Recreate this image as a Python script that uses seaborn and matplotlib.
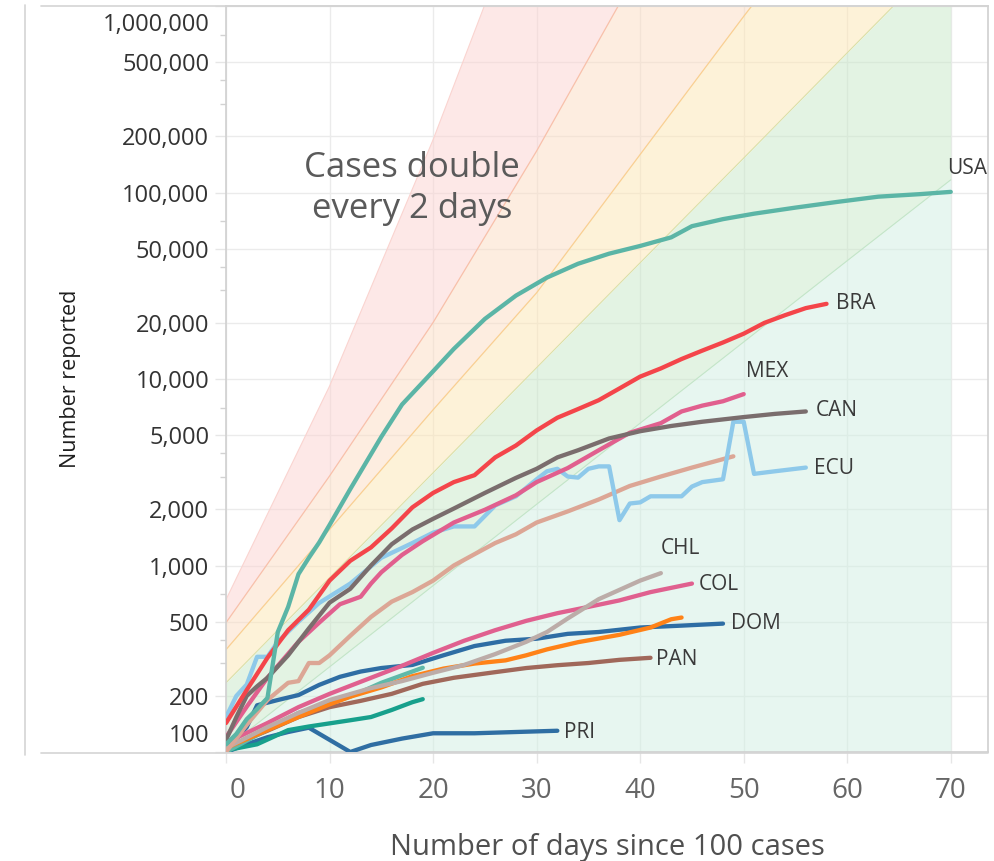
import numpy as np
import pandas as pd
import matplotlib
matplotlib.use("Agg")
import matplotlib.pyplot as plt
import matplotlib.ticker as mticker
from matplotlib.lines import Line2D
from matplotlib.transforms import ScaledTranslation
import seaborn as sns

# Cumulative cases by days since the 100th case
USA_DAYS = [0, 1, 2, 3, 4, 5, 6, 7, 8, 9, 10, 12, 15, 17, 20, 22, 25, 28, 31, 34, 37, 40, 43, 45, 48, 51, 55, 59, 63, 67, 70]
USA_CASES = [110, 125, 150, 170, 195, 440, 600, 900, 1100, 1330, 1650, 2570, 4900, 7300, 11000, 14500, 21000, 28000,
             35000, 41500, 47000, 51700, 57500, 66000, 72000, 77000, 83000, 89000, 95000, 98000, 100800]

BRA_DAYS = [0, 2, 4, 6, 8, 10, 12, 14, 16, 18, 20, 22, 24, 26, 28, 30, 32, 34, 36, 38, 40, 42, 44, 46, 48, 50, 52, 54, 56, 58]
BRA_CASES = [143, 215, 320, 450, 580, 830, 1060, 1250, 1580, 2050, 2450, 2800, 3050, 3800, 4400, 5300, 6200, 6900,
             7700, 8900, 10300, 11400, 12800, 14200, 15700, 17500, 20000, 22000, 24000, 25300]

MEX_DAYS = [0, 2, 4, 5, 7, 9, 11, 13, 14, 15, 17, 19, 22, 25, 28, 30, 33, 36, 39, 42, 44, 46, 48, 50]
MEX_CASES = [120, 175, 250, 290, 390, 494, 620, 680, 800, 920, 1140, 1350, 1700, 1990, 2380, 2800, 3330, 4150,
             5150, 5800, 6700, 7200, 7600, 8300]

CAN_DAYS = [0, 1, 2, 3, 4, 6, 8, 10, 12, 14, 16, 18, 20, 22, 25, 28, 30, 32, 34, 37, 40, 43, 46, 50, 53, 56]
CAN_CASES = [116, 154, 200, 225, 250, 330, 460, 632, 750, 1000, 1300, 1560, 1780, 2020, 2450, 2950, 3300, 3800,
             4150, 4800, 5250, 5600, 5900, 6250, 6500, 6700]

ECU_DAYS = [0, 1, 2, 3, 4, 5, 7, 9, 12, 15, 18, 20, 22, 24, 26, 28, 30, 31, 32, 33, 34, 35, 36, 37, 38, 39, 40,
            41, 44, 45, 46, 48, 49, 50, 51, 53, 56]
ECU_CASES = [154, 200, 230, 324, 324, 390, 500, 630, 800, 1100, 1320, 1500, 1620, 1620, 2100, 2350, 2900, 3200,
             3300, 3000, 2960, 3300, 3400, 3400, 1750, 2150, 2180, 2350, 2350, 2650, 2800, 2900, 5900, 5900,
             3100, 3200, 3350]

SALMON_DAYS = [0, 2, 4, 6, 7, 8, 9, 10, 12, 14, 16, 18, 20, 22, 24, 26, 28, 30, 33, 36, 39, 42, 45, 49]
SALMON_CASES = [100, 140, 190, 235, 240, 300, 300, 330, 420, 530, 640, 720, 830, 1000, 1150, 1320, 1470, 1700,
                1950, 2260, 2670, 3000, 3350, 3850]

CHL_DAYS = [0, 4, 7, 10, 14, 17, 20, 23, 26, 29, 31, 33, 36, 38, 40, 42]
CHL_CASES = [105, 136, 162, 190, 220, 240, 266, 293, 335, 390, 440, 520, 660, 740, 830, 910]

COL_DAYS = [0, 4, 7, 10, 14, 17, 20, 23, 26, 29, 32, 35, 38, 41, 45]
COL_CASES = [112, 143, 174, 205, 250, 290, 340, 395, 450, 505, 555, 600, 650, 720, 800]

DOM_DAYS = [0, 1, 2, 3, 5, 7, 9, 11, 13, 15, 18, 21, 24, 27, 30, 33, 36, 40, 44, 48]
DOM_CASES = [110, 118, 136, 178, 190, 202, 229, 253, 270, 282, 293, 330, 370, 395, 405, 430, 440, 465, 476, 488]

PAN_DAYS = [0, 4, 7, 10, 13, 16, 19, 22, 26, 29, 32, 35, 38, 41]
PAN_CASES = [105, 130, 154, 174, 188, 205, 232, 250, 268, 282, 292, 300, 312, 320]

PRI_DAYS = [0, 2, 4, 6, 8, 12, 14, 17, 20, 24, 28, 32]
PRI_CASES = [100, 110, 120, 128, 135, 100, 109, 118, 126, 126, 128, 130]

ORANGE_DAYS = [0, 4, 7, 10, 12, 15, 18, 21, 24, 27, 29, 31, 34, 38, 41, 43, 44]
ORANGE_CASES = [105, 131, 154, 180, 198, 222, 255, 280, 298, 310, 330, 355, 388, 425, 465, 515, 526]

LTEAL_DAYS = [0, 4, 7, 12, 15, 19]
LTEAL_CASES = [100, 132, 162, 198, 235, 283]

DTEAL_DAYS = [0, 3, 6, 8, 12, 14, 16, 18, 19]
DTEAL_CASES = [102, 110, 131, 137, 148, 154, 168, 185, 192]

# Doubling-time guide bands: edge values at the band days
BAND_DAYS = [0, 10, 20, 30, 40, 50, 60, 70]
EDGE_A = [657, 9160, 192000, 5.4e6, 1.5e8, 4e9, 1e11, 3e12]
EDGE_B = [494, 3020, 20100, 167000, 1.62e6, 1.6e7, 1.6e8, 1.6e9]
EDGE_C = [354, 1560, 6840, 29000, 160000, 880000, 4.6e6, 2.4e7]
EDGE_D = [235, 860, 3140, 11500, 42000, 153000, 561000, 2.05e6]
EDGE_E = [105, 286, 780, 2130, 5800, 15800, 43100, 117000]

Y_TICKS = [100, 200, 500, 1000, 2000, 5000, 10000, 20000, 50000, 100000, 200000, 500000, 1000000]
Y_MINOR = [300, 400, 700, 3000, 4000, 7000, 30000, 40000, 70000, 300000, 400000, 700000]
X_TICKS = [0, 10, 20, 30, 40, 50, 60, 70]


def main():
    sns.set_theme(style="whitegrid")
    plt.rcParams["font.family"] = ["Open Sans", "DejaVu Sans"]

    series = [
        ("PRI", PRI_DAYS, PRI_CASES, "#2f6ea3"),
        ("teal_dark", DTEAL_DAYS, DTEAL_CASES, "#17a08c"),
        ("PAN", PAN_DAYS, PAN_CASES, "#a0685a"),
        ("teal_light", LTEAL_DAYS, LTEAL_CASES, "#5fb9a9"),
        ("DOM", DOM_DAYS, DOM_CASES, "#2e6da4"),
        ("orange", ORANGE_DAYS, ORANGE_CASES, "#ff8217"),
        ("COL", COL_DAYS, COL_CASES, "#e0608f"),
        ("CHL", CHL_DAYS, CHL_CASES, "#bcaca8"),
        ("salmon", SALMON_DAYS, SALMON_CASES, "#dca695"),
        ("ECU", ECU_DAYS, ECU_CASES, "#8ec9ea"),
        ("MEX", MEX_DAYS, MEX_CASES, "#e15f8e"),
        ("CAN", CAN_DAYS, CAN_CASES, "#7a6d6d"),
        ("BRA", BRA_DAYS, BRA_CASES, "#f4454a"),
        ("USA", USA_DAYS, USA_CASES, "#5bb5a6"),
    ]
    rows = []
    for name, days, cases, _ in series:
        for d, c in zip(days, cases):
            rows.append({"Country": name, "Day": d, "Cases": c})
    df = pd.DataFrame(rows)
    palette = {name: col for name, _, _, col in series}

    fig = plt.figure(figsize=(9.94, 8.61), dpi=100)
    ax = fig.add_axes([0.2274, 0.1266, 0.7666, 0.8664])
    ax.set_yscale("log")
    ax.set_axisbelow(True)

    # guide bands
    floor = Y_TICKS[0]
    ax.fill_between(BAND_DAYS, EDGE_A, EDGE_B, color="#fcd2d0", alpha=0.5, lw=0, zorder=1)
    ax.fill_between(BAND_DAYS, EDGE_B, EDGE_C, color="#fcdcc2", alpha=0.5, lw=0, zorder=1)
    ax.fill_between(BAND_DAYS, EDGE_C, EDGE_D, color="#fde6b2", alpha=0.5, lw=0, zorder=1)
    ax.fill_between(BAND_DAYS, EDGE_D, EDGE_E, color="#c9e8c9", alpha=0.5, lw=0, zorder=1)
    ax.fill_between(BAND_DAYS, EDGE_E, floor, color="#d0efe2", alpha=0.5, lw=0, zorder=1)
    ax.plot(BAND_DAYS, EDGE_A, color="#fad4d0", lw=0.8, zorder=1.1)
    ax.plot(BAND_DAYS, EDGE_B, color="#f8c0aa", lw=0.9, zorder=1.1)
    ax.plot(BAND_DAYS, EDGE_C, color="#f9cf92", lw=0.9, zorder=1.1)
    ax.plot(BAND_DAYS, EDGE_D, color="#dadfa6", lw=0.8, zorder=1.1)
    ax.plot(BAND_DAYS, EDGE_E, color="#c3e5c9", lw=0.8, zorder=1.1)

    sns.lineplot(data=df, x="Day", y="Cases", hue="Country", hue_order=[s[0] for s in series],
                 palette=palette, estimator=None, linewidth=3.1, legend=False, ax=ax, zorder=3)

    ax.set_xlim(0, 73.6)
    ax.set_ylim(100, 1000000)
    ax.set_xticks(X_TICKS)
    ax.set_yticks(Y_TICKS)
    ax.yaxis.set_major_formatter(mticker.FuncFormatter(lambda v, p: f"{int(round(v)):,}"))
    ax.yaxis.set_minor_locator(mticker.FixedLocator(Y_MINOR))
    ax.yaxis.set_minor_formatter(mticker.NullFormatter())
    ax.grid(which="major", color="#ebebeb", lw=1)
    ax.grid(which="minor", visible=False)
    ax.tick_params(axis="y", which="major", left=True, length=8, width=1, color="#e6e6e6",
                   labelsize=17, labelcolor="#333333", pad=4)
    ax.tick_params(axis="y", which="minor", left=True, length=4, width=1, color="#d2d2d2")
    ax.tick_params(axis="x", which="major", bottom=True, length=8, width=1, color="#e6e6e6",
                   labelsize=20, labelcolor="#666666", pad=10)
    for sp in ax.spines.values():
        sp.set_color("#d0d0d0")
        sp.set_linewidth(1.2)

    ax.set_xlabel("Number of days since 100 cases", fontsize=21, color="#505050", labelpad=20)
    ax.set_ylabel("Number reported", fontsize=15.5, color="#1e1e1e")
    ax.yaxis.set_label_coords(-0.19, 0.5)

    ax.text(17.95, 105000, "Cases double\nevery 2 days", fontsize=25, color="#5a5a5a",
            ha="center", va="center", linespacing=1.25, zorder=4)

    # end-of-line country labels
    offsets = {
        "USA": (12, 16.5, "center"),
        "BRA": (6.5, 0, "left"),
        "MEX": (2, 16.5, "left"),
        "CAN": (7, 1, "left"),
        "ECU": (6, -1, "left"),
        "CHL": (0, 18, "left"),
        "COL": (5, -1, "left"),
        "DOM": (6, 0, "left"),
        "PAN": (4, -1, "left"),
        "PRI": (5, -1, "left"),
    }
    for name, days, cases, _ in series:
        if name in offsets:
            dx, dy, ha = offsets[name]
            ax.annotate(name, xy=(days[-1], cases[-1]), xytext=(dx, dy), textcoords="offset points",
                        ha=ha, va="center", fontsize=15, color="#3a3a3a", zorder=5)

    # outer pane frame
    fw, fh = 994, 861
    frame_kw = dict(transform=fig.transFigure, color="#d4d4d4", lw=1.2)
    fig.add_artist(Line2D([25 / fw, 25 / fw], [1 - 5 / fh, 1 - 755 / fh], **frame_kw))
    fig.add_artist(Line2D([41 / fw, 988 / fw], [1 - 6 / fh, 1 - 6 / fh], **frame_kw))
    fig.add_artist(Line2D([41 / fw, 988 / fw], [1 - 753 / fh, 1 - 753 / fh], **frame_kw))

    fig.canvas.draw()
    ylabels = ax.yaxis.get_majorticklabels()
    ylabels[0].set_transform(ylabels[0].get_transform() + ScaledTranslation(0, 0.19, fig.dpi_scale_trans))
    ylabels[-1].set_transform(ylabels[-1].get_transform() + ScaledTranslation(0, -0.16, fig.dpi_scale_trans))
    xlabels = ax.xaxis.get_majorticklabels()
    xlabels[0].set_transform(xlabels[0].get_transform() + ScaledTranslation(0.12, 0, fig.dpi_scale_trans))

    fig.savefig("out.png", dpi=100)


if __name__ == "__main__":
    main()
